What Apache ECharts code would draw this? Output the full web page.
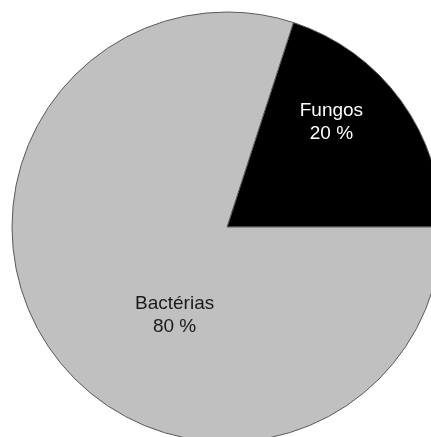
<!DOCTYPE html>
<html>
<head>
<meta charset="utf-8">
<script src="https://cdn.jsdelivr.net/npm/echarts@6/dist/echarts.min.js"></script>
<style>
  html, body { margin: 0; padding: 0; background: #ffffff; }
  #chart { width: 431px; height: 437px; }
</style>
</head>
<body>
<div id="chart"></div>
<script>
// Share of microbial groups (percent)
const categories = ['Fungos', 'Bactérias'];
const shares = [20, 80];
const sliceColors = ['#000000', '#c0c0c0'];
const labelColors = ['#ffffff', '#1a1a1a'];
// nudges of each label away from ECharts' default inside position
const labelShift = [[15, -40], [37, 23]];

const chart = echarts.init(document.getElementById('chart'), null, { renderer: 'canvas' });

const data = categories.map((name, i) => ({
  name: name,
  value: shares[i],
  itemStyle: { color: sliceColors[i] },
  label: { color: labelColors[i] }
}));

chart.setOption({
  animation: false,
  backgroundColor: '#ffffff',
  series: [{
    type: 'pie',
    center: [227, 227],
    radius: 215,
    startAngle: 72,
    clockwise: true,
    silent: true,
    itemStyle: { borderColor: '#5a5a5a', borderWidth: 1 },
    label: {
      show: true,
      position: 'inside',
      fontFamily: 'Liberation Sans, Arial, sans-serif',
      fontSize: 19,
      lineHeight: 23,
      align: 'center',
      formatter: p => p.name + '\n' + p.value + ' %'
    },
    labelLine: { show: false },
    labelLayout: function (params) {
      const s = labelShift[params.dataIndex];
      return { dx: s[0], dy: s[1] };
    },
    data: data
  }]
});
</script>
</body>
</html>
